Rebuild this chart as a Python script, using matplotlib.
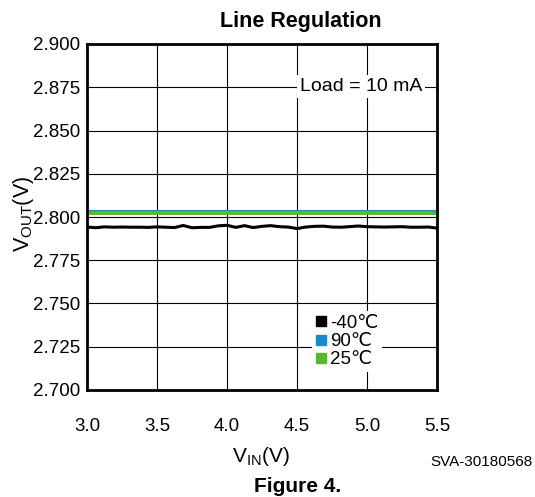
import matplotlib.pyplot as plt
import numpy as np

plt.rcParams['font.family'] = ['Liberation Sans', 'DejaVu Sans']
plt.rcParams['mathtext.fontset'] = 'custom'
plt.rcParams['mathtext.rm'] = 'Liberation Sans'

vin = np.linspace(3.0, 5.5, 41)
v_m40 = [2.7942, 2.7938, 2.7943, 2.7941, 2.7942, 2.7941, 2.7941, 2.7940, 2.7943, 2.7941,
         2.7939, 2.7951, 2.7938, 2.7940, 2.7940, 2.7949, 2.7952, 2.7940, 2.7950, 2.7939,
         2.7946, 2.7950, 2.7944, 2.7942, 2.7933, 2.7942, 2.7946, 2.7947, 2.7942, 2.7941,
         2.7944, 2.7948, 2.7944, 2.7943, 2.7942, 2.7943, 2.7944, 2.7941, 2.7941, 2.7942, 2.7936]
v_90 = [2.8036] * 41
v_25 = [2.8024] * 41

series = [('-40\u2103', v_m40, 'black', 2.2), ('90\u2103', v_90, '#1a8ac8', 2.2), ('25\u2103', v_25, '#5ab82e', 2.8)]

fig = plt.figure(figsize=(5.35, 4.97), dpi=100)
ax = fig.add_axes([87 / 535, 1 - 390 / 497, 350 / 535, 346 / 497])

for name, vals, col, lw in series:
    ax.plot(vin, vals, color=col, lw=lw)
    ax.plot([], [], 's', color=col, ms=7, label=name)

ax.set_xlim(3.0, 5.5)
ax.set_ylim(2.7, 2.9)
ax.set_xticks(np.arange(3.0, 5.51, 0.5))
ax.set_yticks(np.arange(2.7, 2.901, 0.025))
ax.set_xticklabels(['%.1f' % v for v in np.arange(3.0, 5.51, 0.5)])
ax.set_yticklabels(['%.3f' % v for v in np.arange(2.7, 2.901, 0.025)])
ax.tick_params(length=0, labelsize=13.5)
ax.tick_params(axis='x', pad=20)
ax.tick_params(axis='y', pad=5)
ax.grid(True, color='black', lw=0.8)
for s in ax.spines.values():
    s.set_linewidth(2)

ax.text(4.96, 2.8755, 'Load = 10 mA', fontsize=14, ha='center', va='center',
        bbox=dict(facecolor='white', edgecolor='none', pad=2))

handles, labels = ax.get_legend_handles_labels()
names = [s[0] for s in series]
leg = ax.legend([h for h in handles if h.get_label() in names], names,
                loc='upper left', bbox_to_anchor=(0.615, 0.255),
                frameon=True, fontsize=13.5, handlelength=0.6, handletextpad=0.2,
                labelspacing=0.05, borderpad=0.2)
leg.get_frame().set_edgecolor('none')
leg.get_frame().set_alpha(1)

fig.text(301 / 535, 1 - 21 / 497, 'Line Regulation', fontsize=15.5, fontweight='bold',
         ha='center', va='center')
fig.text(261 / 535, 1 - 456 / 497, 'V$_{\\mathregular{IN}}$(V)', fontsize=15,
         ha='center', va='center')
fig.text(24 / 535, 1 - 214 / 497, 'V$_{\\mathregular{OUT}}$(V)', fontsize=15.5, rotation=90,
         ha='center', va='center')
fig.text(533 / 535, 1 - 462 / 497, 'SVA-30180568', fontsize=11, ha='right', va='center')
fig.text(298 / 535, 1 - 486 / 497, 'Figure 4.', fontsize=15, fontweight='bold', ha='center', va='center')

fig.savefig('out.png', dpi=100)
